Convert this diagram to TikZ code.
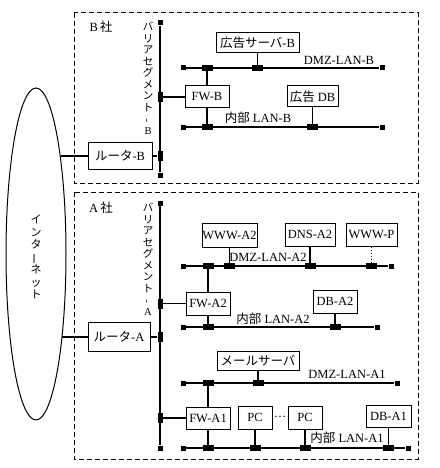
\documentclass[tikz,border=0pt]{standalone}
\usepackage{fontspec}
\usepackage{graphicx}
\setmainfont{Liberation Serif}
\newfontfamily\jp{Noto Sans CJK JP}
\usetikzlibrary{shapes.geometric}
\newcommand{\vbar}[1]{\rotatebox[origin=c]{90}{#1}}

\begin{document}
\begin{tikzpicture}[x=1pt, y=-1pt,
  dev/.style={draw, line width=1pt, inner sep=0pt, minimum height=22, fill=white, font=\fontsize{12.5}{14}\selectfont},
  bus/.style={line width=1.8pt},
  link/.style={line width=1.1pt},
  stub/.style={fill, inner sep=0pt, minimum size=5},
  tap/.style={fill, inner sep=0pt, minimum width=11, minimum height=6},
  vtap/.style={fill, inner sep=0pt, minimum width=5, minimum height=10},
  zone/.style={draw, line width=1pt, dash pattern=on 5pt off 3pt},
  lbl/.style={inner sep=1pt, font=\fontsize{12.5}{14}\selectfont},
  vtxt/.style={align=center, inner sep=0pt, font=\jp\fontsize{10.5}{11.5}\selectfont},
]
  \useasboundingbox (0,0) rectangle (439,468);

  % Companies
  \draw[zone] (74,13) rectangle (418,183);
  \draw[zone] (74,192) rectangle (418,459);
  \node[lbl] (tagB) at (101,27) {B\,{\jp 社}};
  \node[lbl] (tagA) at (101,208) {A\,{\jp 社}};

  % Internet
  \node[draw, ellipse, line width=1pt, inner sep=0pt, minimum width=60, minimum height=332] (inet) at (36,254) {};
  \node[vtxt, font=\jp\fontsize{11}{12.5}\selectfont] (inettxt) at (36,257) {イ\\ン\\タ\\\vbar{ー}\\ネ\\ッ\\ト};

  % Barrier segment B
  \node[stub] (bB0) at (160,23) {};
  \node[vtap] (bB1) at (160,97) {};
  \node[vtap] (bB2) at (160,156) {};
  \node[stub] (bB3) at (160,175) {};
  \draw[bus] (bB0) -- (bB3);
  \node[vtxt] (segB) at (148,78) {バ\\リ\\ア\\セ\\グ\\メ\\ン\\ト\\\vbar{-}\\{\rmfamily B}};

  % DMZ-LAN-B
  \node[stub] (dB0) at (183,68) {};
  \node[tap] (dB1) at (207,68) {};
  \node[tap] (dB2) at (257.5,68) {};
  \node[stub] (dB3) at (382,68) {};
  \draw[bus] (dB0) -- (dB3);
  \node[lbl] (dBlbl) at (339,60) {DMZ-LAN-B};

  % LAN-B
  \node[stub] (iB0) at (183,127) {};
  \node[tap] (iB1) at (207,127) {};
  \node[tap] (iB2) at (312.5,127) {};
  \node[stub] (iB3) at (382,127) {};
  \draw[bus] (iB0) -- (iB3);
  \node[lbl] (iBlbl) at (258,118) {{\jp 内部} LAN-B};

  \node[dev, minimum width=83, minimum height=20] (advB) at (257.5,43) {{\jp 広告サーバ}-B};
  \node[dev, minimum width=44] (fwB) at (207,97) {FW-B};
  \node[dev, minimum width=51, minimum height=21] (dbB) at (312.5,96.5) {{\jp 広告} DB};
  \node[dev, minimum width=64, minimum height=27] (rtB) at (120,156) {{\jp ルータ}-B};

  \draw[link] (advB) -- (dB2);
  \draw[link] (dB1) -- (fwB) -- (iB1);
  \draw[link] (dbB) -- (iB2);
  \draw[link] (bB1) -- (fwB);
  \draw[link] (rtB) -- (bB2);
  \draw[link] (rtB.west -| inet.76) -- (rtB.west);

  % Barrier segment A
  \node[stub] (bA0) at (160,203) {};
  \node[vtap] (bA1) at (160,303.5) {};
  \node[vtap] (bA2) at (160,337) {};
  \node[vtap] (bA3) at (160,418) {};
  \node[stub] (bA4) at (160,448) {};
  \draw[bus] (bA0) -- (bA4);
  \node[vtxt] (segA) at (148,259) {バ\\リ\\ア\\セ\\グ\\メ\\ン\\ト\\\vbar{-}\\{\rmfamily A}};

  % DMZ-LAN-A2
  \node[stub] (dA20) at (183,266) {};
  \node[tap] (dA21) at (208,266) {};
  \node[tap] (dA22) at (229.5,266) {};
  \node[tap] (dA23) at (310,266) {};
  \node[tap] (dA24) at (371.5,266) {};
  \node[stub] (dA25) at (391,266) {};
  \draw[bus] (dA20) -- (dA25);
  \node[lbl] (dA2lbl) at (268,257) {DMZ-LAN-A2};

  % LAN-A2
  \node[stub] (iA20) at (183,327) {};
  \node[tap] (iA21) at (208,327) {};
  \node[tap] (iA22) at (335,327) {};
  \node[stub] (iA23) at (377,327) {};
  \draw[bus] (iA20) -- (iA23);
  \node[lbl] (iA2lbl) at (273,319) {{\jp 内部} LAN-A2};

  \node[dev, minimum width=55, minimum height=24] (wwwA2) at (229.5,235) {WWW-A2};
  \node[dev, minimum width=50, minimum height=23] (dnsA2) at (310,234.5) {DNS-A2};
  \node[dev, minimum width=51, minimum height=23] (wwwP) at (371.5,234.5) {WWW-P};
  \node[dev, minimum width=44, minimum height=23] (fwA2) at (208,303.5) {FW-A2};
  \node[dev, minimum width=44, minimum height=23] (dbA2) at (335,301.5) {DB-A2};
  \node[dev, minimum width=62, minimum height=29] (rtA) at (119,337) {{\jp ルータ}-A};

  \draw[link] (wwwA2) -- (dA22);
  \draw[link] (dnsA2) -- (dA23);
  \draw[link, dotted] (wwwP) -- (dA24);
  \draw[link] (dA21) -- (fwA2) -- (iA21);
  \draw[link] (dbA2) -- (iA22);
  \draw[link] (bA1) -- (fwA2);
  \draw[link] (rtA) -- (bA2);
  \draw[link] (rtA.west -| inet.-73) -- (rtA.west);

  % DMZ-LAN-A1
  \node[stub] (dA10) at (183,383) {};
  \node[tap] (dA11) at (208,383) {};
  \node[tap] (dA12) at (258,383) {};
  \node[stub] (dA13) at (397,383) {};
  \draw[bus] (dA10) -- (dA13);
  \node[lbl] (dA1lbl) at (347,374) {DMZ-LAN-A1};

  % LAN-A1
  \node[stub] (iA10) at (183,448) {};
  \node[tap] (iA11) at (208,448) {};
  \node[tap] (iA12) at (255,448) {};
  \node[tap] (iA13) at (305,448) {};
  \node[tap] (iA14) at (388.5,448) {};
  \node[stub] (iA15) at (408,448) {};
  \draw[bus] (iA10) -- (iA15);
  \node[lbl] (iA1lbl) at (347,438) {{\jp 内部} LAN-A1};

  \node[dev, minimum width=82, minimum height=19] (mail) at (258,360.5) {{\jp メールサーバ}};
  \node[dev, minimum width=44] (fwA1) at (208,418) {FW-A1};
  \node[dev, minimum width=34, minimum height=23] (pc1) at (255,417.5) {PC};
  \node[lbl, font=\jp\fontsize{11}{12}\selectfont] (dots) at (280,417) {⋯};
  \node[dev, minimum width=34, minimum height=23] (pc2) at (305,417.5) {PC};
  \node[dev, minimum width=45] (dbA1) at (388.5,416) {DB-A1};

  \draw[link] (mail) -- (dA12);
  \draw[link] (dA11) -- (fwA1) -- (iA11);
  \draw[link] (pc1) -- (iA12);
  \draw[link] (pc2) -- (iA13);
  \draw[link] (dbA1) -- (iA14);
  \draw[link] (bA3) -- (fwA1);
\end{tikzpicture}
\end{document}
